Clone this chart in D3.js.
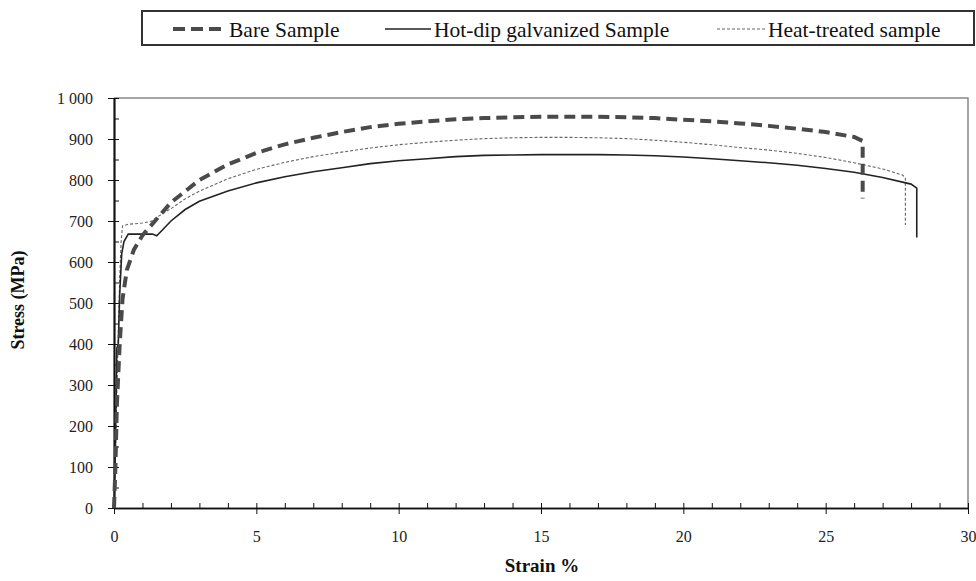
<!DOCTYPE html>
<html>
<head>
<meta charset="utf-8">
<script src="https://cdn.jsdelivr.net/npm/d3@7"></script>
<style>
  body { margin: 0; background: #fff; }
  svg { display: block; }
  text { font-family: "Liberation Serif", "DejaVu Serif", serif; }
  .axis path, .axis line { stroke: #111; }
  .axis text { font-size: 16px; fill: #222; }
</style>
</head>
<body>
<svg width="976" height="581"></svg>
<script>
// series (strain %, stress MPa)
var bareStrain = [0, 0.05, 0.1, 0.2, 0.3, 0.45, 0.7, 1.0, 1.5, 2, 3, 4, 5, 6, 7, 8, 9, 10, 11, 12, 13, 14, 15, 16, 17, 18, 19, 20, 21, 22, 23, 24, 25, 26, 26.3, 26.3];
var bareStress = [0, 100, 250, 400, 510, 580, 630, 665, 705, 745, 800, 838, 866, 887, 903, 917, 929, 937, 943, 948, 951, 953, 954, 954, 954, 953, 951, 947, 943, 938, 932, 925, 917, 905, 895, 755];

var galvStrain = [0, 0.05, 0.08, 0.1, 0.15, 0.2, 0.27, 0.35, 0.5, 1.0, 1.35, 1.5, 1.7, 2.0, 2.5, 3, 4, 5, 6, 7, 8, 9, 10, 11, 12, 13, 14, 15, 16, 17, 18, 19, 20, 21, 22, 23, 24, 25, 26, 27, 28, 28.2, 28.2];
var galvStress = [0, 150, 300, 390, 400, 520, 620, 650, 668, 668, 668, 664, 678, 700, 728, 748, 773, 793, 808, 820, 830, 840, 847, 852, 857, 860, 861, 862, 862, 862, 861, 859, 856, 852, 847, 842, 836, 828, 819, 806, 790, 780, 660];

var heatStrain = [0, 0.05, 0.1, 0.15, 0.2, 0.25, 0.3, 0.5, 1.0, 1.3, 1.7, 2, 2.5, 3, 4, 5, 6, 7, 8, 9, 10, 11, 12, 13, 14, 15, 16, 17, 18, 19, 20, 21, 22, 23, 24, 25, 26, 27, 27.7, 27.8, 27.8];
var heatStress = [0, 120, 280, 420, 560, 650, 688, 692, 695, 699, 718, 730, 754, 773, 803, 826, 843, 857, 868, 878, 886, 892, 897, 901, 903, 904, 904, 903, 901, 897, 892, 886, 879, 873, 865, 855, 842, 827, 812, 805, 690];

var seriesNames = ["Bare Sample", "Hot-dip galvanized Sample", "Heat-treated sample"];
var xMajor = [0, 5, 10, 15, 20, 25, 30];
var xMinor = d3.range(0, 31, 1);
var yMajor = [0, 100, 200, 300, 400, 500, 600, 700, 800, 900, 1000];
var yMinor = d3.range(0, 1001, 50);

var svg = d3.select("svg");
var x = d3.scaleLinear().domain([0, 30]).range([114, 968]);
var y = d3.scaleLinear().domain([0, 1000]).range([508, 98]);

// plot frame (top and right edges)
svg.append("path")
  .attr("d", "M" + x(0) + "," + y(1000) + "H" + x(30) + "V" + y(0))
  .attr("fill", "none")
  .attr("stroke", "#888")
  .attr("stroke-width", 1.5);

// y axis: minor ticks inside, major ticks crossing
svg.append("g").attr("class", "axis")
  .attr("transform", "translate(" + x(0) + ",0)")
  .call(d3.axisLeft(y).tickValues(yMinor).tickSize(-5).tickSizeOuter(0).tickFormat(""));
svg.append("g").attr("class", "axis")
  .attr("transform", "translate(" + x(0) + ",0)")
  .call(d3.axisLeft(y).tickValues(yMajor).tickSize(-4).tickSizeOuter(0).tickFormat(""));
var yAx = svg.append("g").attr("class", "axis")
  .attr("transform", "translate(" + x(0) + ",0)")
  .call(d3.axisLeft(y).tickValues(yMajor).tickSize(6).tickSizeOuter(0)
    .tickFormat(d => d === 1000 ? "1\u00a0000" : d));
yAx.selectAll("text").attr("x", -21);

// x axis
svg.append("g").attr("class", "axis")
  .attr("transform", "translate(0," + y(0) + ")")
  .call(d3.axisBottom(x).tickValues(xMinor).tickSize(-5).tickSizeOuter(0).tickFormat(""));
var xAx = svg.append("g").attr("class", "axis")
  .attr("transform", "translate(0," + y(0) + ")")
  .call(d3.axisBottom(x).tickValues(xMajor).tickSize(6).tickSizeOuter(0));
xAx.selectAll("text").attr("y", 23);
svg.selectAll(".axis").attr("font-family", null);
svg.selectAll(".axis path.domain").attr("stroke-width", 1.5);

// curves
var line = d3.line().x(d => x(d[0])).y(d => y(d[1]));
var curves = [
  {pts: d3.zip(heatStrain, heatStress), color: "#666", width: 1.1, dash: "3,2"},
  {pts: d3.zip(galvStrain, galvStress), color: "#222", width: 1.6, dash: null},
  {pts: d3.zip(bareStrain, bareStress), color: "#4a4a4a", width: 4, dash: "11,6"}
];
svg.append("g").selectAll("path")
  .data(curves).enter()
  .append("path")
  .attr("d", d => line(d.pts))
  .attr("fill", "none")
  .attr("stroke", d => d.color)
  .attr("stroke-width", d => d.width)
  .attr("stroke-dasharray", d => d.dash);

// axis titles
svg.append("text")
  .attr("x", 542).attr("y", 572)
  .attr("text-anchor", "middle")
  .style("font-size", "19px").style("font-weight", "bold").style("fill", "#111")
  .text("Strain %");
svg.append("text")
  .attr("transform", "translate(24,300) rotate(-90)")
  .attr("text-anchor", "middle")
  .style("font-size", "18px").style("font-weight", "bold").style("fill", "#111")
  .text("Stress (MPa)");

// legend
var leg = svg.append("g");
leg.append("rect")
  .attr("x", 142).attr("y", 11).attr("width", 832).attr("height", 34)
  .attr("fill", "#fff").attr("stroke", "#333").attr("stroke-width", 2);
var legItems = [
  {name: seriesNames[0], x1: 173, x2: 226, color: "#4a4a4a", width: 4, dash: "12,6"},
  {name: seriesNames[1], x1: 385, x2: 431, color: "#222", width: 1.6, dash: null},
  {name: seriesNames[2], x1: 717, x2: 765, color: "#666", width: 1.1, dash: "3,2"}
];
var li = leg.selectAll("g.item").data(legItems).enter().append("g").attr("class", "item");
li.append("line")
  .attr("x1", d => d.x1).attr("x2", d => d.x2)
  .attr("y1", 29).attr("y2", 29)
  .attr("stroke", d => d.color)
  .attr("stroke-width", d => d.width)
  .attr("stroke-dasharray", d => d.dash);
li.append("text")
  .attr("x", d => d.x2 + 3).attr("y", 37)
  .style("font-size", "21.5px").style("fill", "#111")
  .text(d => d.name);
</script>
</body>
</html>
